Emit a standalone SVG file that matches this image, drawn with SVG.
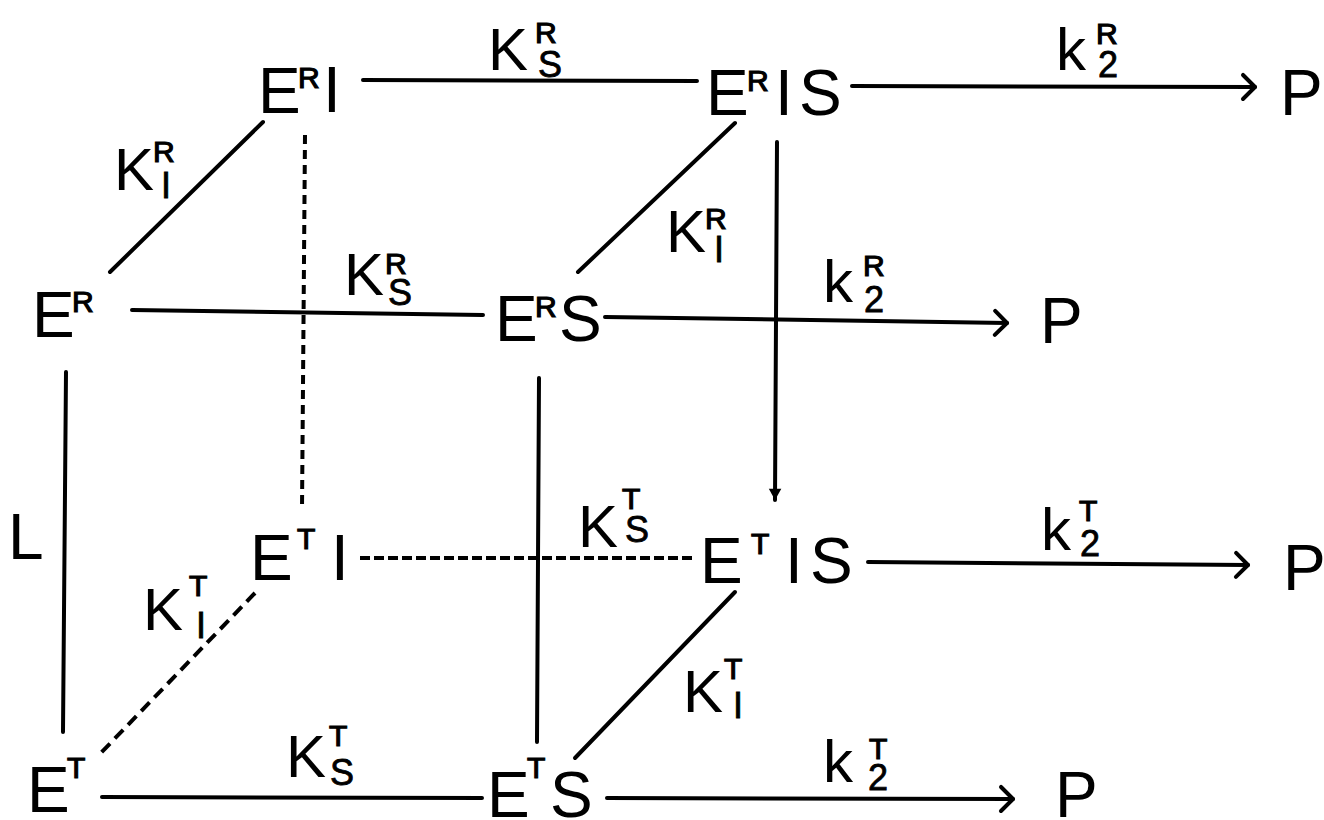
<svg xmlns="http://www.w3.org/2000/svg" width="1324" height="820" viewBox="0 0 1324 820">
<style>
text{font-family:"Liberation Sans",Arial,sans-serif;fill:#000}
.m{font-size:64px}
.k{font-size:60px}
.sp{font-size:30px;stroke:#000;stroke-width:1.2}
.sb{font-size:36px;stroke:#000;stroke-width:0.8}
.ln{stroke:#000;stroke-width:4;fill:none;stroke-linecap:round}
.d1{stroke-dasharray:9 6;stroke-linecap:butt}
.d2{stroke-dasharray:12 7;stroke-linecap:butt}
.d3{stroke-dasharray:10 4;stroke-linecap:butt}
</style>
<defs>
<marker id="open" markerUnits="userSpaceOnUse" markerWidth="30" markerHeight="30" viewBox="-16 -15 20 30" refX="0" refY="0" orient="auto">
<path d="M-12,-12 L0,0 L-12,12" stroke="#000" stroke-width="4" fill="none" stroke-linecap="round" stroke-linejoin="round"/>
</marker>
<marker id="small" markerUnits="userSpaceOnUse" markerWidth="20" markerHeight="20" viewBox="-10 -8 12 16" refX="0" refY="0" orient="auto">
<path d="M-9,-5 L0,0 L-9,5 Z" fill="#000"/>
</marker>
</defs>
<g id="connectors">
<line class="ln" x1="363" y1="80" x2="697" y2="81"/>
<line class="ln" x1="852" y1="86" x2="1255" y2="87" marker-end="url(#open)"/>
<line class="ln" x1="263" y1="122" x2="110" y2="272"/>
<line class="ln" x1="735" y1="123" x2="578" y2="272"/>
<line class="ln" x1="132" y1="310" x2="483" y2="315"/>
<line class="ln" x1="605" y1="317" x2="1007" y2="323" marker-end="url(#open)"/>
<line class="ln" x1="777" y1="142" x2="775" y2="500" marker-end="url(#small)"/>
<line class="ln d1" x1="305" y1="135" x2="302" y2="510"/>
<line class="ln" x1="66" y1="372" x2="63" y2="732"/>
<line class="ln" x1="539" y1="378" x2="537" y2="742"/>
<line class="ln d3" x1="360" y1="558" x2="695" y2="558"/>
<line class="ln" x1="868" y1="562" x2="1248" y2="565" marker-end="url(#open)"/>
<line class="ln d2" x1="255" y1="593" x2="97" y2="757"/>
<line class="ln" x1="735" y1="592" x2="575" y2="758"/>
<line class="ln" x1="102" y1="797" x2="482" y2="798"/>
<line class="ln" x1="607" y1="798" x2="1013" y2="799" marker-end="url(#open)"/>
</g>
<g id="node-ERI">
<text class="m" x="258" y="113">E</text><text class="sp" x="298" y="88">R</text><text class="m" x="323" y="112">I</text>
</g>
<g id="node-ERIS">
<text class="m" x="706" y="115">E</text><text class="sp" x="747" y="91">R</text><text class="m" x="775" y="115">I</text><text class="m" x="799" y="115">S</text>
</g>
<g id="node-P1"><text class="m" x="1280" y="115">P</text></g>
<g id="node-ER">
<text class="m" x="32" y="337">E</text><text class="sp" x="72" y="312">R</text>
</g>
<g id="node-ERS">
<text class="m" x="495" y="341">E</text><text class="sp" x="535" y="317">R</text><text class="m" x="559" y="341">S</text>
</g>
<g id="node-P2"><text class="m" x="1040" y="343">P</text></g>
<g id="node-ETI">
<text class="m" x="250" y="580">E</text><text class="sp" x="297" y="549">T</text><text class="m" x="331" y="580">I</text>
</g>
<g id="node-ETIS">
<text class="m" x="700" y="583">E</text><text class="sp" x="751" y="554">T</text><text class="m" x="785" y="583">I</text><text class="m" x="810" y="583">S</text>
</g>
<g id="node-P3"><text class="m" x="1283" y="590">P</text></g>
<g id="node-ET">
<text class="m" x="27" y="812">E</text><text class="sp" x="67" y="778">T</text>
</g>
<g id="node-ETS">
<text class="m" x="487" y="817">E</text><text class="sp" x="527" y="778">T</text><text class="m" x="550" y="817">S</text>
</g>
<g id="node-P4"><text class="m" x="1055" y="817">P</text></g>
<g id="labels">
<text class="k" x="488" y="70">K</text><text class="sp" x="535" y="43">R</text><text class="sb" x="538" y="77">S</text>
<text class="k" x="1056" y="70">k</text><text class="sp" x="1096" y="44">R</text><text class="sb" x="1098" y="77">2</text>
<text class="k" x="114" y="190">K</text><text class="sp" x="153" y="162">R</text><text class="sb" x="161" y="198">I</text>
<text class="k" x="344" y="295">K</text><text class="sp" x="385" y="274">R</text><text class="sb" x="388" y="305">S</text>
<text class="k" x="823" y="302">k</text><text class="sp" x="863" y="276">R</text><text class="sb" x="864" y="312">2</text>
<text class="k" x="666" y="252">K</text><text class="sp" x="705" y="229">R</text><text class="sb" x="714" y="262">I</text>
<text class="m" x="8" y="559">L</text>
<text class="k" x="578" y="547">K</text><text class="sp" x="622" y="509">T</text><text class="sb" x="625" y="542">S</text>
<text class="k" x="1041" y="550">k</text><text class="sp" x="1079" y="521">T</text><text class="sb" x="1080" y="556">2</text>
<text class="k" x="143" y="630">K</text><text class="sp" x="189" y="596">T</text><text class="sb" x="196" y="638">I</text>
<text class="k" x="683" y="712">K</text><text class="sp" x="724" y="679">T</text><text class="sb" x="733" y="718">I</text>
<text class="k" x="286" y="777">K</text><text class="sp" x="329" y="746">T</text><text class="sb" x="330" y="785">S</text>
<text class="k" x="823" y="782">k</text><text class="sp" x="869" y="759">T</text><text class="sb" x="868" y="790">2</text>
</g>
</svg>
